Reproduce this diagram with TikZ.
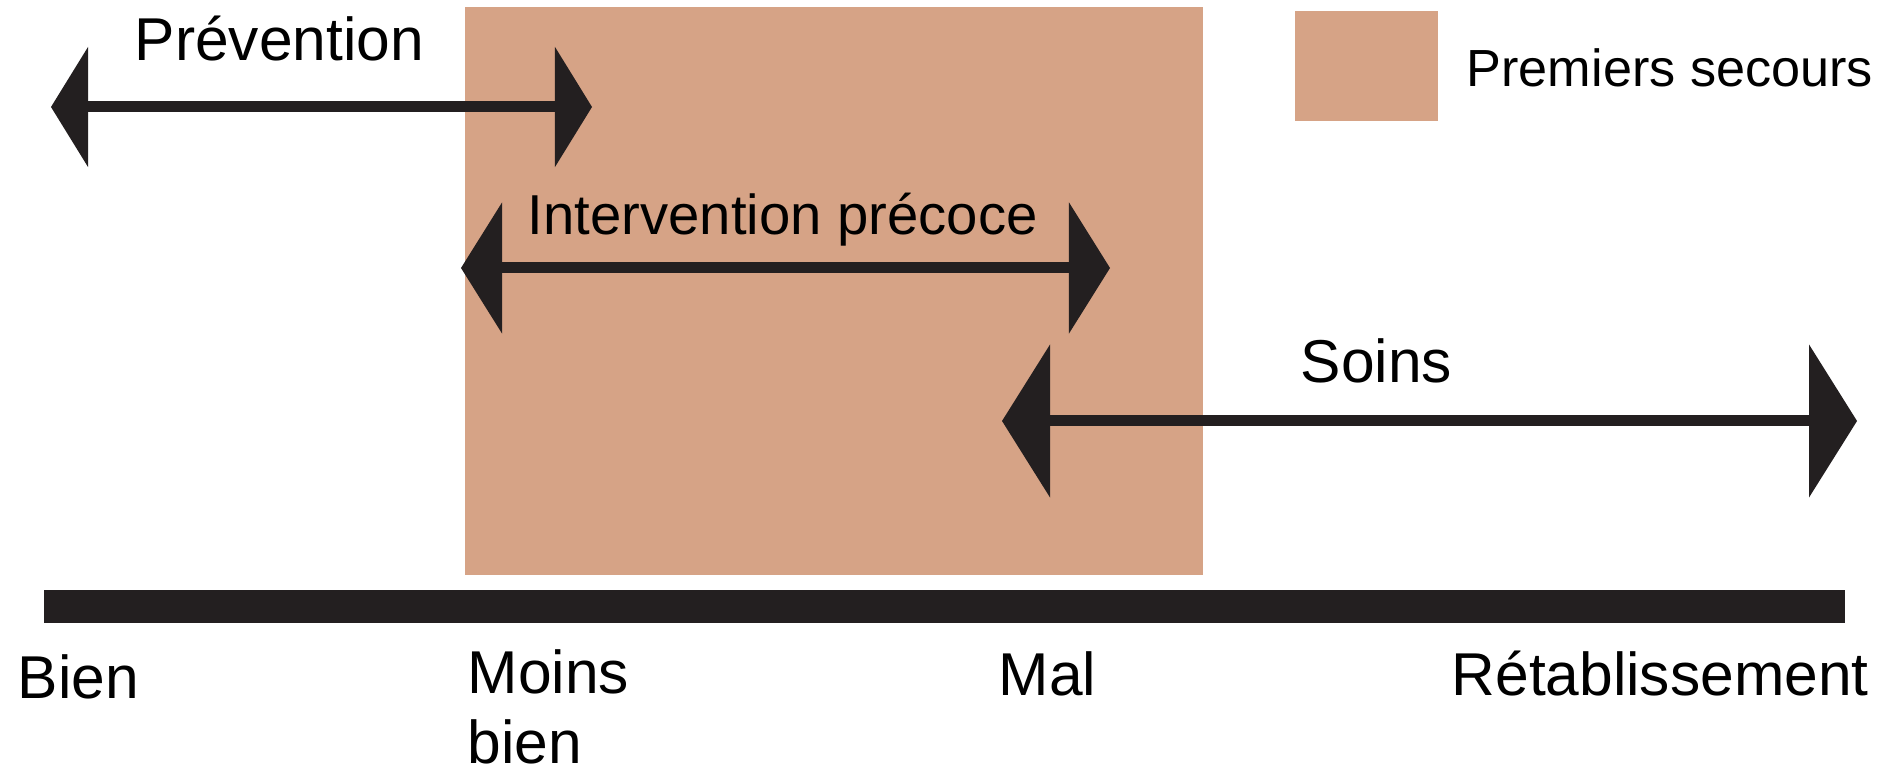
\documentclass[tikz,border=0pt]{standalone}
\usepackage{fontspec}
\setmainfont{Liberation Sans}
\usetikzlibrary{arrows.meta}
\definecolor{aid}{RGB}{214,163,134}
\definecolor{ink}{RGB}{35,31,32}
\begin{document}
\begin{tikzpicture}[x=0.01cm,y=-0.01cm,
  lbl/.style={anchor=base west,inner sep=0pt,text=black,font=\fontsize{17.2}{20}\selectfont},
  dblarrow/.style={draw=ink,line width=0.11cm},
  aidbox/.style={fill=aid,draw=none}]
\useasboundingbox (0,0) rectangle (1886,768);
% orange area
\fill[aidbox] (465,7) rectangle (1203,575);
% legend
\fill[aidbox] (1295,11) rectangle (1438,121);
\node[lbl,font=\fontsize{14.85}{17}\selectfont] (leg) at (1466,87) {Premiers secours};
% timeline bar
\fill[ink] (44,590) rectangle (1845,623);
% arrows
\coordinate (pvL) at (51,107);
\coordinate (pvR) at (592,107);
\coordinate (ipL) at (461,268);
\coordinate (ipR) at (1110,268);
\coordinate (soL) at (1002,421);
\coordinate (soR) at (1857,421);
\draw[dblarrow,{Triangle[length=0.37cm,width=1.2cm,line width=0pt]}-{Triangle[length=0.37cm,width=1.2cm,line width=0pt]}] (pvL) -- (pvR);
\draw[dblarrow,{Triangle[length=0.41cm,width=1.31cm,line width=0pt]}-{Triangle[length=0.41cm,width=1.31cm,line width=0pt]}] (ipL) -- (ipR);
\draw[dblarrow,{Triangle[length=0.48cm,width=1.53cm,line width=0pt]}-{Triangle[length=0.48cm,width=1.53cm,line width=0pt]}] (soL) -- (soR);
% arrow labels
\node[lbl] (prev) at (134,61) {Prévention};
\node[lbl,font=\fontsize{16.0}{19}\selectfont] (inter) at (527,235) {Intervention précoce};
\node[lbl] (soins) at (1300,383) {Soins};
% timeline labels
\node[lbl] (bien) at (17,699) {Bien};
\node[lbl] (moins) at (467,694) {Moins};
\node[lbl] (moins2) at (467,764) {bien};
\node[lbl] (mal) at (998,696) {Mal};
\node[lbl] (retab) at (1451,696) {Rétablissement};
\end{tikzpicture}
\end{document}
